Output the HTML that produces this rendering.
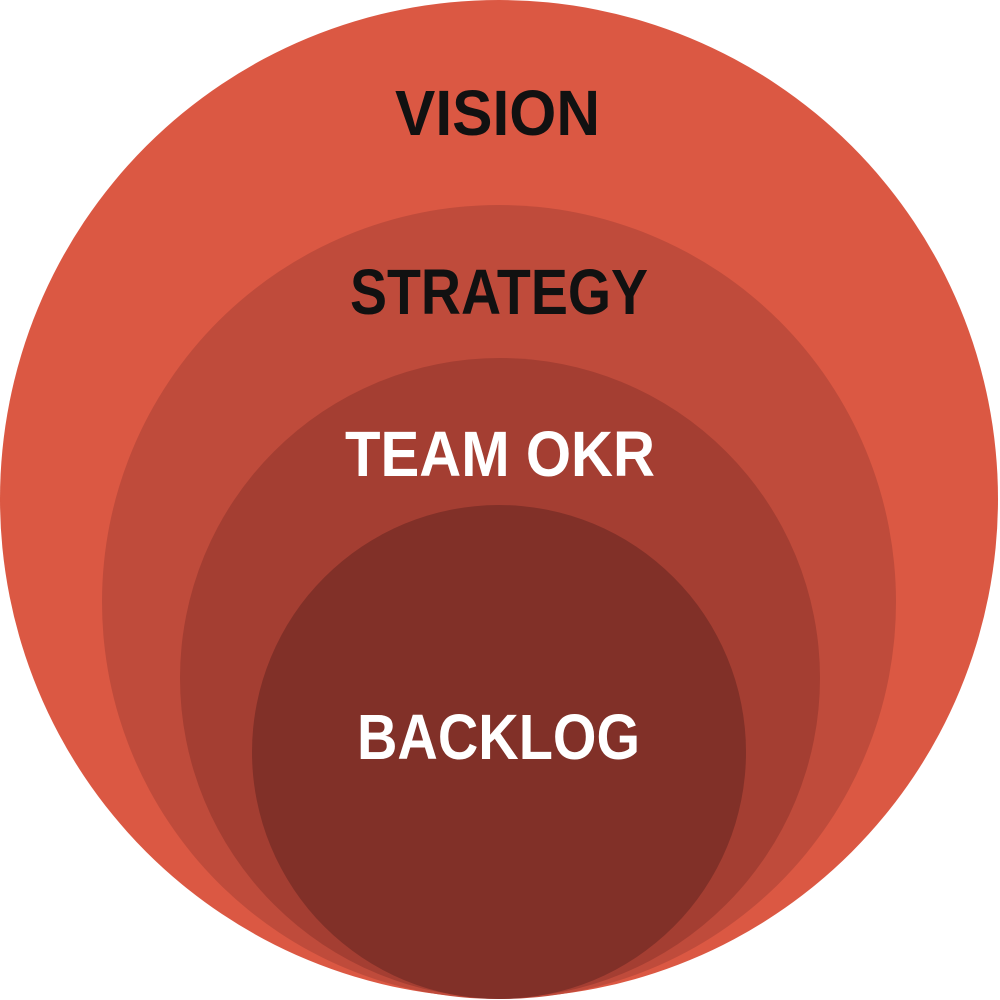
<!DOCTYPE html>
<html>
<head>
<meta charset="utf-8">
<style>
html,body{margin:0;padding:0;background:#fff;}
svg{display:block;}
text{font-family:"Liberation Sans",sans-serif;font-weight:bold;font-size:64px;}
</style>
</head>
<body>
<svg width="1000" height="1000" viewBox="0 0 1000 1000">
<circle cx="499" cy="499" r="499" fill="#DB5843"/>
<circle cx="499" cy="602" r="397" fill="#BF4B3B"/>
<circle cx="500" cy="678" r="320" fill="#A43E32"/>
<circle cx="499" cy="752" r="247" fill="#813028"/>
<text x="395" y="135" textLength="205" lengthAdjust="spacingAndGlyphs" fill="#111">VISION</text>
<text x="350" y="314" textLength="298" lengthAdjust="spacingAndGlyphs" fill="#111">STRATEGY</text>
<text x="345" y="476" textLength="310" lengthAdjust="spacingAndGlyphs" fill="#fff">TEAM OKR</text>
<text x="357" y="759" textLength="283" lengthAdjust="spacingAndGlyphs" fill="#fff">BACKLOG</text>
</svg>
</body>
</html>
